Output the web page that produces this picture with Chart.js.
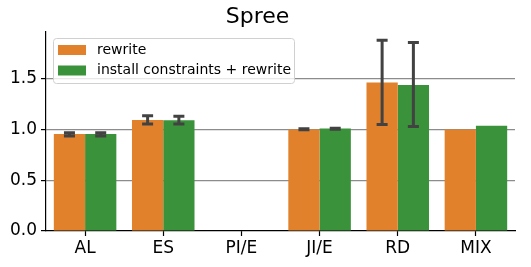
<!DOCTYPE html>
<html>
<head>
<meta charset="utf-8">
<script src="https://cdn.jsdelivr.net/npm/chart.js@4/dist/chart.umd.min.js"></script>
<style>
  html, body { margin: 0; padding: 0; background: #fff; }
</style>
</head>
<body>
<canvas id="chart" width="531" height="267"></canvas>
<script>
const categories = ['AL', 'ES', 'PI/E', 'JI/E', 'RD', 'MIX'];

const rewriteVals = [0.955, 1.093, null, 1.0, 1.463, 1.0];
const installVals = [0.955, 1.09, null, 1.01, 1.438, 1.036];

// error bar ends (null = no bar drawn)
const rewriteLow  = [0.935, 1.055, null, 0.998, 1.049, null];
const rewriteHigh = [0.968, 1.135, null, 1.006, 1.879, null];
const installLow  = [0.935, 1.055, null, 1.003, 1.03, null];
const installHigh = [0.968, 1.13, null, 1.012, 1.856, null];

const yTicks = [0, 0.5, 1.0, 1.5];

const FONT = 'DejaVu Sans';

// error bars drawn over the bars
const errorBars = {
    id: 'errorBars',
    afterDatasetsDraw(chart) {
        const ctx = chart.ctx;
        const y = chart.scales.y;
        const errs = [[rewriteLow, rewriteHigh], [installLow, installHigh]];
        ctx.save();
        ctx.strokeStyle = '#424242';
        ctx.lineWidth = 3;
        errs.forEach((pair, di) => {
            const meta = chart.getDatasetMeta(di);
            meta.data.forEach((bar, i) => {
                const lo = pair[0][i], hi = pair[1][i];
                if (lo == null || hi == null) return;
                const x = bar.x;
                const y1 = y.getPixelForValue(lo), y2 = y.getPixelForValue(hi);
                const cw = 5.5;
                ctx.beginPath();
                ctx.moveTo(x, y1); ctx.lineTo(x, y2);
                ctx.moveTo(x - cw, y1); ctx.lineTo(x + cw, y1);
                ctx.moveTo(x - cw, y2); ctx.lineTo(x + cw, y2);
                ctx.stroke();
            });
        });
        ctx.restore();
    }
};

// legend box inside the plot, upper left
const innerLegend = {
    id: 'innerLegend',
    afterDraw(chart) {
        const ctx = chart.ctx;
        const a = chart.chartArea;
        const bx = a.left + 7, by = a.top + 6, bw = 241, bh = 45;
        ctx.save();
        ctx.fillStyle = 'rgba(255,255,255,0.8)';
        ctx.strokeStyle = '#d0d0d0';
        ctx.lineWidth = 1;
        ctx.beginPath();
        ctx.roundRect(bx + 0.5, by + 0.5, bw, bh, 3);
        ctx.fill();
        ctx.stroke();
        ctx.font = '14px "' + FONT + '"';
        ctx.textBaseline = 'middle';
        chart.data.datasets.forEach((ds, i) => {
            const cy = by + 12 + i * 20.5;
            ctx.fillStyle = ds.backgroundColor;
            ctx.fillRect(bx + 5, cy - 5, 28, 10);
            ctx.fillStyle = '#000';
            ctx.fillText(ds.label, bx + 44, cy);
        });
        ctx.restore();
    }
};

new Chart(document.getElementById('chart'), {
    type: 'bar',
    data: {
        labels: categories,
        datasets: [
            { label: 'rewrite', data: rewriteVals, backgroundColor: '#e1812c', borderWidth: 0 },
            { label: 'install constraints + rewrite', data: installVals, backgroundColor: '#3a923a', borderWidth: 0 }
        ]
    },
    options: {
        responsive: false,
        animation: false,
        layout: { padding: { left: 0, right: 16, top: 0, bottom: 0 } },
        datasets: { bar: { categoryPercentage: 0.8, barPercentage: 1.0 } },
        plugins: {
            legend: { display: false },
            tooltip: { enabled: false },
            title: {
                display: true,
                text: 'Spree',
                color: '#000',
                font: { family: FONT, size: 22, weight: 'normal' },
                padding: { top: 4, bottom: 1.6 }
            }
        },
        scales: {
            x: {
                grid: { offset: false, drawOnChartArea: false, drawTicks: true,
                        tickLength: 5, tickColor: '#000', tickWidth: 1.2 },
                border: { color: '#000', width: 1.2 },
                ticks: { color: '#000', padding: 2, font: { family: FONT, size: 17 } },
                afterFit(scale) { scale.height = 36; }
            },
            y: {
                min: 0,
                max: 1.96,
                afterBuildTicks(scale) { scale.ticks = yTicks.map(v => ({ value: v })); },
                grid: {
                    color: ctx => ctx.tick && ctx.tick.value === 0 ? 'rgba(0,0,0,0)' : '#8c8c8c',
                    lineWidth: 1.2,
                    drawTicks: true, tickLength: 5, tickColor: '#000', tickWidth: 1.2
                },
                border: { color: '#000', width: 1.2 },
                ticks: {
                    color: '#000', padding: 4,
                    font: { family: FONT, size: 17 },
                    callback: v => v.toFixed(1)
                },
                afterFit(scale) { scale.width = 46; }
            }
        }
    },
    plugins: [errorBars, innerLegend]
});
</script>
</body>
</html>
